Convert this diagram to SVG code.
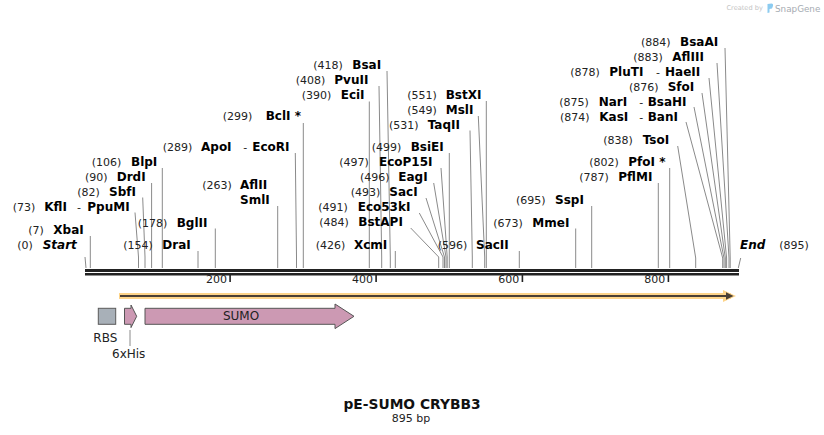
<svg xmlns="http://www.w3.org/2000/svg" width="824" height="435" viewBox="0 0 824 435">
<style>
  text { font-family: "DejaVu Sans", Verdana, sans-serif; }
  .n { font-size: 11px; fill: #222; }
  .e { font-size: 12px; font-weight: bold; fill: #000; }
  .i { font-size: 12px; font-weight: bold; font-style: italic; fill: #000; }
  .ln { fill: none; stroke: #8a8a8a; stroke-width: 1; }
  .bb { fill: #222; }
  .tk { font-size: 11px; fill: #222; text-anchor: end; }
  .ft { font-size: 12px; fill: #222; }
  .feat { fill: #cc99b3; stroke: #555; stroke-width: 1; }
</style>
<rect width="824" height="435" fill="#fff"/>

<g id="watermark">
  <text x="726.5" y="10" style="font-size:6.6px;fill:#c4c4c4">Created by</text>
  <path d="M767.5,4 L771.5,3.5 Q773.5,3.5 773,6 L772,8.5 L769.5,9 L769.5,12.5 L767.5,13 Z" fill="#8ccbf0"/>
  <text x="775" y="11.5" style="font-size:8.8px;fill:#a6acb2">SnapGene</text>
</g>

<g id="connectors" class="ln">
  <polyline points="85,257 86,268"/>
  <polyline points="90.3,236 90.3,268"/>
  <polyline points="135,212.5 138.5,257 138.5,268"/>
  <polyline points="142.7,197.5 145,257 145,268"/>
  <polyline points="151.6,183 151.6,268"/>
  <polyline points="162.3,168 162.3,268"/>
  <polyline points="198,251 198,268"/>
  <polyline points="215.3,228.5 215.3,268"/>
  <polyline points="277.7,206 277.7,268"/>
  <polyline points="295.3,153 296.5,257 296.5,268"/>
  <polyline points="303.3,123 303.3,268"/>
  <polyline points="369.3,101.5 369.3,268"/>
  <polyline points="379,86 381.7,257 381.7,268"/>
  <polyline points="387,71 390.3,257 390.3,268"/>
  <polyline points="395.3,251 395.3,268"/>
  <polyline points="410.7,228 438.7,257 438.7,268"/>
  <polyline points="419.3,213 443,257 443,268"/>
  <polyline points="426,198 444.5,257 444.5,268"/>
  <polyline points="433.7,183 446,257 446,268"/>
  <polyline points="441,168 447.2,257 447.2,268"/>
  <polyline points="449.3,153 449.3,268"/>
  <polyline points="470,130.5 472.3,257 472.3,268"/>
  <polyline points="478.3,116 484.7,257 484.7,268"/>
  <polyline points="486.3,101 486.3,268"/>
  <polyline points="519.3,251 519.3,268"/>
  <polyline points="575.7,228.5 575.7,268"/>
  <polyline points="591.7,206 591.7,268"/>
  <polyline points="658.3,183 658.3,268"/>
  <polyline points="669.7,168 669.7,268"/>
  <polyline points="677.7,146 695.7,258 695.7,268"/>
  <polyline points="686,122 722.7,258 722.7,268"/>
  <polyline points="694,107 724,258 724,268"/>
  <polyline points="702,93 725.3,258 725.3,268"/>
  <polyline points="709,78 726.6,258 726.6,268"/>
  <polyline points="717,63 729,258 729,268"/>
  <polyline points="725,48 730.2,258 730.2,268"/>
  <polyline points="740.7,258 738.3,268"/>
  <polyline points="130,330 130,346"/>
</g>

<g id="backbone">
  <rect class="bb" x="85" y="269" width="654" height="3"/>
  <rect class="bb" x="85" y="273" width="654" height="2.5"/>
  <rect class="bb" x="229.3" y="275" width="1.6" height="7"/>
  <rect class="bb" x="375.3" y="275" width="1.6" height="7"/>
  <rect class="bb" x="521.6" y="275" width="1.6" height="7"/>
  <rect class="bb" x="667.6" y="275" width="1.6" height="7"/>
  <text class="tk" x="227" y="283">200</text>
  <text class="tk" x="373" y="283">400</text>
  <text class="tk" x="519.3" y="283">600</text>
  <text class="tk" x="665.3" y="283">800</text>
</g>

<g id="site-Start"><text class="n" x="17.3" y="249">(0)</text><text class="i" x="42.7" y="249">Start</text></g>
<g id="site-XbaI"><text class="n" x="28.3" y="234">(7)</text><text class="e" x="53.3" y="234">XbaI</text></g>
<g id="site-KflI"><text class="n" x="12.7" y="211">(73)</text><text class="e" x="44.3" y="211">KflI</text><text class="n" x="77" y="211">-</text><text class="e" x="87.3" y="211">PpuMI</text></g>
<g id="site-SbfI"><text class="n" x="77.3" y="196">(82)</text><text class="e" x="109" y="196">SbfI</text></g>
<g id="site-DrdI"><text class="n" x="85" y="181">(90)</text><text class="e" x="116.7" y="181">DrdI</text></g>
<g id="site-BlpI"><text class="n" x="91.7" y="166">(106)</text><text class="e" x="131" y="166">BlpI</text></g>
<g id="site-DraI"><text class="n" x="123.3" y="249">(154)</text><text class="e" x="162.3" y="249">DraI</text></g>
<g id="site-BglII"><text class="n" x="137.7" y="226.5">(178)</text><text class="e" x="176.7" y="226.5">BglII</text></g>
<g id="site-AflII"><text class="n" x="202.3" y="188.5">(263)</text><text class="e" x="240" y="188.5">AflII</text><text class="e" x="240" y="204">SmlI</text></g>
<g id="site-ApoI"><text class="n" x="162.7" y="151">(289)</text><text class="e" x="201" y="151">ApoI</text><text class="n" x="243.3" y="151">-</text><text class="e" x="252.3" y="151">EcoRI</text></g>
<g id="site-BclI"><text class="n" x="222.7" y="120">(299)</text><text class="e" x="265.7" y="120">BclI *</text></g>
<g id="site-EciI"><text class="n" x="301.7" y="99">(390)</text><text class="e" x="340.7" y="99">EciI</text></g>
<g id="site-PvuII"><text class="n" x="295.7" y="84">(408)</text><text class="e" x="334.3" y="84">PvuII</text></g>
<g id="site-BsaI"><text class="n" x="313.3" y="69">(418)</text><text class="e" x="352.3" y="69">BsaI</text></g>
<g id="site-XcmI"><text class="n" x="315.7" y="249">(426)</text><text class="e" x="354" y="249">XcmI</text></g>
<g id="site-BstAPI"><text class="n" x="319.3" y="226">(484)</text><text class="e" x="358.3" y="226">BstAPI</text></g>
<g id="site-Eco53kI"><text class="n" x="318.3" y="211">(491)</text><text class="e" x="357.7" y="211">Eco53kI</text></g>
<g id="site-SacI"><text class="n" x="350.7" y="196">(493)</text><text class="e" x="389.3" y="196">SacI</text></g>
<g id="site-EagI"><text class="n" x="360" y="181">(496)</text><text class="e" x="398.3" y="181">EagI</text></g>
<g id="site-EcoP15I"><text class="n" x="339.3" y="166">(497)</text><text class="e" x="379" y="166">EcoP15I</text></g>
<g id="site-BsiEI"><text class="n" x="371.7" y="151">(499)</text><text class="e" x="410.7" y="151">BsiEI</text></g>
<g id="site-TaqII"><text class="n" x="389" y="129">(531)</text><text class="e" x="427.7" y="129">TaqII</text></g>
<g id="site-MslI"><text class="n" x="407.3" y="114">(549)</text><text class="e" x="445.7" y="114">MslI</text></g>
<g id="site-BstXI"><text class="n" x="407.3" y="99">(551)</text><text class="e" x="445.7" y="99">BstXI</text></g>
<g id="site-SacII"><text class="n" x="437.7" y="249">(596)</text><text class="e" x="476" y="249">SacII</text></g>
<g id="site-MmeI"><text class="n" x="493.3" y="226.5">(673)</text><text class="e" x="532.3" y="226.5">MmeI</text></g>
<g id="site-SspI"><text class="n" x="516" y="204">(695)</text><text class="e" x="555" y="204">SspI</text></g>
<g id="site-PflMI"><text class="n" x="579.3" y="181">(787)</text><text class="e" x="618.3" y="181">PflMI</text></g>
<g id="site-PfoI"><text class="n" x="589.3" y="166">(802)</text><text class="e" x="628.3" y="166">PfoI *</text></g>
<g id="site-TsoI"><text class="n" x="603.3" y="144">(838)</text><text class="e" x="642.7" y="144">TsoI</text></g>
<g id="site-KasI"><text class="n" x="560" y="121">(874)</text><text class="e" x="599.3" y="121">KasI</text><text class="n" x="639.3" y="121">-</text><text class="e" x="647.7" y="121">BanI</text></g>
<g id="site-NarI"><text class="n" x="559.3" y="106">(875)</text><text class="e" x="598.7" y="106">NarI</text><text class="n" x="639.3" y="106">-</text><text class="e" x="647.7" y="106">BsaHI</text></g>
<g id="site-SfoI"><text class="n" x="629" y="91">(876)</text><text class="e" x="667.7" y="91">SfoI</text></g>
<g id="site-PluTI"><text class="n" x="570.3" y="76">(878)</text><text class="e" x="609.3" y="76">PluTI</text><text class="n" x="656" y="76">-</text><text class="e" x="665" y="76">HaeII</text></g>
<g id="site-AflIII"><text class="n" x="633.3" y="61">(883)</text><text class="e" x="672.3" y="61">AflIII</text></g>
<g id="site-BsaAI"><text class="n" x="641" y="46">(884)</text><text class="e" x="680" y="46">BsaAI</text></g>
<g id="site-End"><text class="i" x="740" y="249">End</text><text class="n" x="779.3" y="249">(895)</text></g>

<g id="orf">
  <rect x="119" y="293" width="612" height="6" fill="#fdd48a"/>
  <polygon points="723,290 736,296 723,302" fill="#fdd48a"/>
  <line x1="120" y1="296" x2="727" y2="296" stroke="#4a3f35" stroke-width="2"/>
  <polygon points="726,292.3 733.5,296 726,299.7" fill="#4a3f35"/>
</g>

<g id="RBS">
  <rect x="98.3" y="308.3" width="17.4" height="16" fill="#a8b0b8" stroke="#5a5a5a" stroke-width="1"/>
  <text class="ft" x="105.3" y="341.5" text-anchor="middle">RBS</text>
</g>
<g id="His6">
  <polygon class="feat" points="124.5,308.3 131,308.3 131,305 136.7,316.3 131,327.6 131,324.3 124.5,324.3"/>
  <text class="ft" x="128.7" y="357.5" text-anchor="middle">6xHis</text>
</g>
<g id="SUMO">
  <polygon class="feat" points="145,308.3 335,308.3 335,304 354,316.3 335,328.6 335,324.3 145,324.3"/>
  <text class="ft" x="241" y="319.5" text-anchor="middle">SUMO</text>
</g>

<g id="title">
  <text x="412" y="409" text-anchor="middle" style="font-size:13.8px;font-weight:bold;fill:#111">pE-SUMO CRYBB3</text>
  <text x="411" y="421.5" text-anchor="middle" class="n">895 bp</text>
</g>
</svg>
